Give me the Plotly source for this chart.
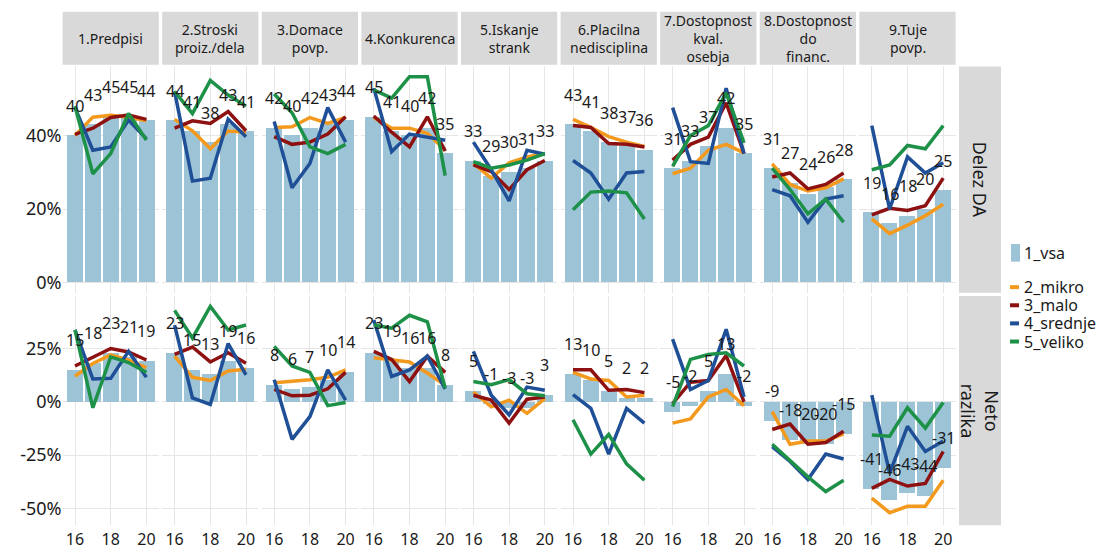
import plotly.graph_objects as go

years = [16, 17, 18, 19, 20]
panels = ["1.Predpisi", "2.Stroski<br>proiz./dela", "3.Domace<br>povp.", "4.Konkurenca",
          "5.Iskanje<br>strank", "6.Placilna<br>nedisciplina", "7.Dostopnost<br>kval.<br>osebja",
          "8.Dostopnost<br>do<br>financ.", "9.Tuje<br>povp."]
row_labels = ["Delez DA", "Neto<br>razlika"]
series_names = ["1_vsa", "2_mikro", "3_malo", "4_srednje", "5_veliko"]

# ---- Row 1: Delez DA (%) ----
vsa_delez = [[40, 43, 45, 45, 44], [44, 41, 38, 43, 41], [42, 40, 42, 43, 44], [45, 41, 40, 42, 35],
             [33, 29, 30, 31, 33], [43, 41, 38, 37, 36], [31, 33, 37, 42, 35], [31, 27, 24, 26, 28],
             [19, 16, 18, 20, 25]]
mikro_delez = [[40, 45, 45.5, 45, 44], [44.4, 41.3, 36.4, 41.2, 40.9], [42.2, 42.4, 44.9, 43.3, 44.9],
               [44.9, 42, 42, 40.6, 36], [32.4, 28.4, 32.6, 34.2, 35.1], [44.4, 42.2, 39.7, 38.2, 37],
               [29.6, 31.1, 36, 37.6, 35.3], [32.3, 26.7, 24.9, 25.8, 28.2], [17.3, 13.3, 15.6, 18.2, 21.3]]
malo_delez = [[40.3, 42, 44.9, 45.6, 44.4], [42, 44, 43.3, 46.5, 41.3], [39.7, 37.6, 38.2, 40.4, 45.1],
              [45.3, 40.9, 36.9, 45.1, 35.8], [32, 30.2, 25.3, 30.7, 33.2], [42.7, 42.2, 37.8, 37.6, 36.9],
              [33.3, 37.6, 39.6, 48.9, 35.1], [28.7, 29.8, 25.5, 26.7, 29.8], [18.4, 20.2, 19.6, 20.9, 28.4]]
srednje_delez = [[47.6, 36, 36.9, 44.2, 39.1], [52, 27.6, 28.4, 44.4, 39.7], [43.8, 25.8, 32.4, 47.6, 38.2],
                 [52.9, 35.6, 40.4, 39.6, 38.7], [38.2, 30.7, 22.2, 36, 34.9], [33.2, 29.8, 22.7, 29.8, 30.2],
                 [47.6, 32.9, 32.4, 52.9, 35.1], [25.3, 23.6, 16.4, 22.7, 23.6], [42.7, 20, 34.2, 29.8, 32.6]]
veliko_delez = [[48, 29.6, 35.1, 46, 38.8], [52, 46, 55, 51, 48], [51.3, 46.2, 36.9, 35.1, 37.6],
                [52.4, 50.2, 56, 56, 29.1], [32.9, 31.1, 32, 33.3, 35.1], [19.8, 24.6, 24.9, 24.4, 17.3],
                [31.6, 40, 42.7, 51.6, 38], [31.1, 25.3, 18.7, 22.7, 16.4], [30.7, 32, 37.3, 36.4, 42.7]]

# ---- Row 2: Neto razlika (%) ----
vsa_neto = [[15, 18, 23, 21, 19], [23, 15, 13, 19, 16], [8, 6, 7, 10, 14], [23, 19, 16, 16, 8],
            [5, -1, -3, -3, 3], [13, 10, 5, 2, 2], [-5, -2, 5, 13, -2], [-9, -18, -20, -20, -15],
            [-41, -46, -43, -44, -31]]
mikro_neto = [[12, 18, 22, 19.5, 16], [21.4, 11.5, 10, 14.5, 15.3], [8.9, 9.5, 10.4, 11.5, 15],
              [20.7, 19.6, 18.7, 13.5, 7.7], [4.6, -2.3, 0.8, -5.4, 1.5], [13.8, 10.7, 10, 2.3, 3.1],
              [-10, -8, 2.3, 5.8, -1.8], [-4.6, -19.9, -18.4, -18.4, -15], [-45.2, -52, -49, -49, -36.8]]
malo_neto = [[16.8, 20.7, 25, 23.4, 19.6], [22.2, 25.7, 18.7, 23, 18.1], [5.8, 2.8, 3.1, 6.1, 13.8],
             [23.7, 19.9, 9.5, 21.4, 13.8], [3.1, 0.8, -10, 1.2, 2.3], [15, 15, 5.4, 5.8, 4.3],
             [-0.8, 9.2, 10, 21.7, 0], [-13, -10.4, -19.9, -19.1, -13.8], [-40.6, -36.4, -39.5, -38.3, -23.3]]
srednje_neto = [[33.7, 10.7, 11, 23.7, 11.5], [36, 1.8, -1.2, 27.3, 12.6], [10.4, -17.6, -6.9, 15, 0.8],
                [38.3, 11.9, 15, 21.4, 6.1], [23.7, 3.1, -6.1, 6.9, 5.4], [3.4, -3.1, -24.5, -3.1, -10],
                [29.4, 5.8, 10, 34, 2.3], [-21, -28, -36.4, -24.5, -26.8], [3.1, -33.4, -11.5, -23.3, -18.4]]
veliko_neto = [[33.7, -2.8, 21.1, 18.4, 13.8], [42.9, 29.9, 44.7, 33.7, 36], [26, 16.8, 13.8, -1.8, -0.3],
               [36, 34.5, 40.6, 37.5, 6.4], [9.5, 8, 10.4, 3.8, 2.8], [-8.4, -24.5, -15.3, -29.1, -36.8],
               [-2.3, 19.9, 22.2, 23, 16.8], [-19.9, -27.6, -35.2, -42.1, -36.8], [-15.6, -16.1, -2.8, -12.3, -0.3]]

bar_color = "#9DC3D6"
line_colors = ["#F39A1E", "#8E1111", "#1F4F96", "#1E9148"]
FONT = "Noto Sans"
TXT = "#1a1a1a"

W, H = 1112, 550
row_px = [(67.8, 298.8), (302.1, 536.0)]
row_ranges = [[-2.8, 58.8], [-57.9, 49.6]]
row_ticks = [[0, 20, 40], [-50, -25, 0, 25]]
panel_x0, panel_w, panel_step = 62.6, 96.2, 99.6

rows_data = [
    (vsa_delez, [mikro_delez, malo_delez, srednje_delez, veliko_delez]),
    (vsa_neto, [mikro_neto, malo_neto, srednje_neto, veliko_neto]),
]


def px(x):
    return x / W


def py(y):
    return 1 - y / H


fig = go.Figure()
layout = dict(width=W, height=H, margin=dict(l=0, r=0, t=0, b=0),
              plot_bgcolor="white", paper_bgcolor="white",
              font=dict(family=FONT, color=TXT), showlegend=False, bargap=0)
annotations = []
shapes = []

for r in range(2):
    bars, lines = rows_data[r]
    y0p, y1p = row_px[r]
    for c in range(9):
        k = r * 9 + c + 1
        xa = "x" if k == 1 else f"x{k}"
        ya = "y" if k == 1 else f"y{k}"
        x0 = panel_x0 + c * panel_step
        x1 = x0 + panel_w
        layout["xaxis" if k == 1 else f"xaxis{k}"] = dict(
            domain=[px(x0), px(x1)], anchor=ya, range=[15.305, 20.695],
            tickvals=[16, 18, 20], ticktext=["16", "18", "20"], showticklabels=(r == 1),
            showgrid=True, gridcolor="#E6E6E6", gridwidth=1, zeroline=False,
            tickfont=dict(size=16, color=TXT), ticks="", ticklabelstandoff=3,
            showline=False, fixedrange=True)
        layout["yaxis" if k == 1 else f"yaxis{k}"] = dict(
            domain=[py(y1p), py(y0p)], anchor=xa, range=row_ranges[r],
            tickvals=row_ticks[r], ticktext=[f"{v}%" for v in row_ticks[r]],
            showticklabels=(c == 0), showgrid=True, gridcolor="#E6E6E6", gridwidth=1,
            zeroline=False, tickfont=dict(size=18, color=TXT), ticks="", showline=False,
            fixedrange=True)
        fig.add_trace(go.Bar(x=years, y=bars[c], width=0.9, marker=dict(color=bar_color, line=dict(width=0)),
                             name=series_names[0], xaxis=xa, yaxis=ya))
        for s in range(4):
            fig.add_trace(go.Scatter(x=years, y=lines[s][c], mode="lines",
                                     line=dict(color=line_colors[s], width=3.5),
                                     name=series_names[s + 1], xaxis=xa, yaxis=ya))
        for xv, v in zip(years, bars[c]):
            annotations.append(dict(x=xv, y=v, xref=xa, yref=ya, text=str(v), showarrow=False,
                                    xanchor="center", yanchor="middle",
                                    yshift=30, font=dict(size=16, color=TXT, family=FONT)))
        if r == 0:
            shapes.append(dict(type="rect", xref="paper", yref="paper", x0=px(x0), x1=px(x1),
                               y0=py(66), y1=py(12), fillcolor="#D9D9D9", line=dict(width=0),
                               layer="below"))
            annotations.append(dict(x=px((x0 + x1) / 2), y=py(39), xref="paper", yref="paper",
                                    text=panels[c], showarrow=False, xanchor="center", yanchor="middle",
                                    font=dict(size=14, color=TXT, family=FONT)))
    # right strip
    shapes.append(dict(type="rect", xref="paper", yref="paper", x0=px(959), x1=px(1001),
                       y0=py(y1p), y1=py(y0p), fillcolor="#D9D9D9", line=dict(width=0),
                       layer="below"))
    annotations.append(dict(x=px(980), y=py((y0p + y1p) / 2), xref="paper", yref="paper",
                            text=row_labels[r], textangle=90, showarrow=False,
                            xanchor="center", yanchor="middle",
                            font=dict(size=18, color=TXT, family=FONT)))

# legend (drawn as keys + labels, ggplot style)
leg_y = [258, 293, 311.5, 330, 348.5]
shapes.append(dict(type="rect", xref="paper", yref="paper", x0=px(1011), x1=px(1020),
                   y0=py(267), y1=py(249), fillcolor=bar_color, line=dict(width=0)))
for i in range(4):
    shapes.append(dict(type="line", xref="paper", yref="paper", x0=px(1010), x1=px(1019),
                       y0=py(leg_y[i + 1]), y1=py(leg_y[i + 1]),
                       line=dict(color=line_colors[i], width=4)))
for i, name in enumerate(series_names):
    annotations.append(dict(x=px(1022), y=py(leg_y[i]), xref="paper", yref="paper", text=name,
                            showarrow=False, xanchor="left", yanchor="middle",
                            font=dict(size=16, color=TXT, family=FONT)))

layout["annotations"] = annotations
layout["shapes"] = shapes
fig.update_layout(**layout)

post = """
var s = document.createElement('style');
s.textContent = 'html,body{margin:0;padding:0;overflow:hidden;}';
document.head.appendChild(s);
"""
fig.write_html("out.html", config={"displayModeBar": False}, post_script=post)
